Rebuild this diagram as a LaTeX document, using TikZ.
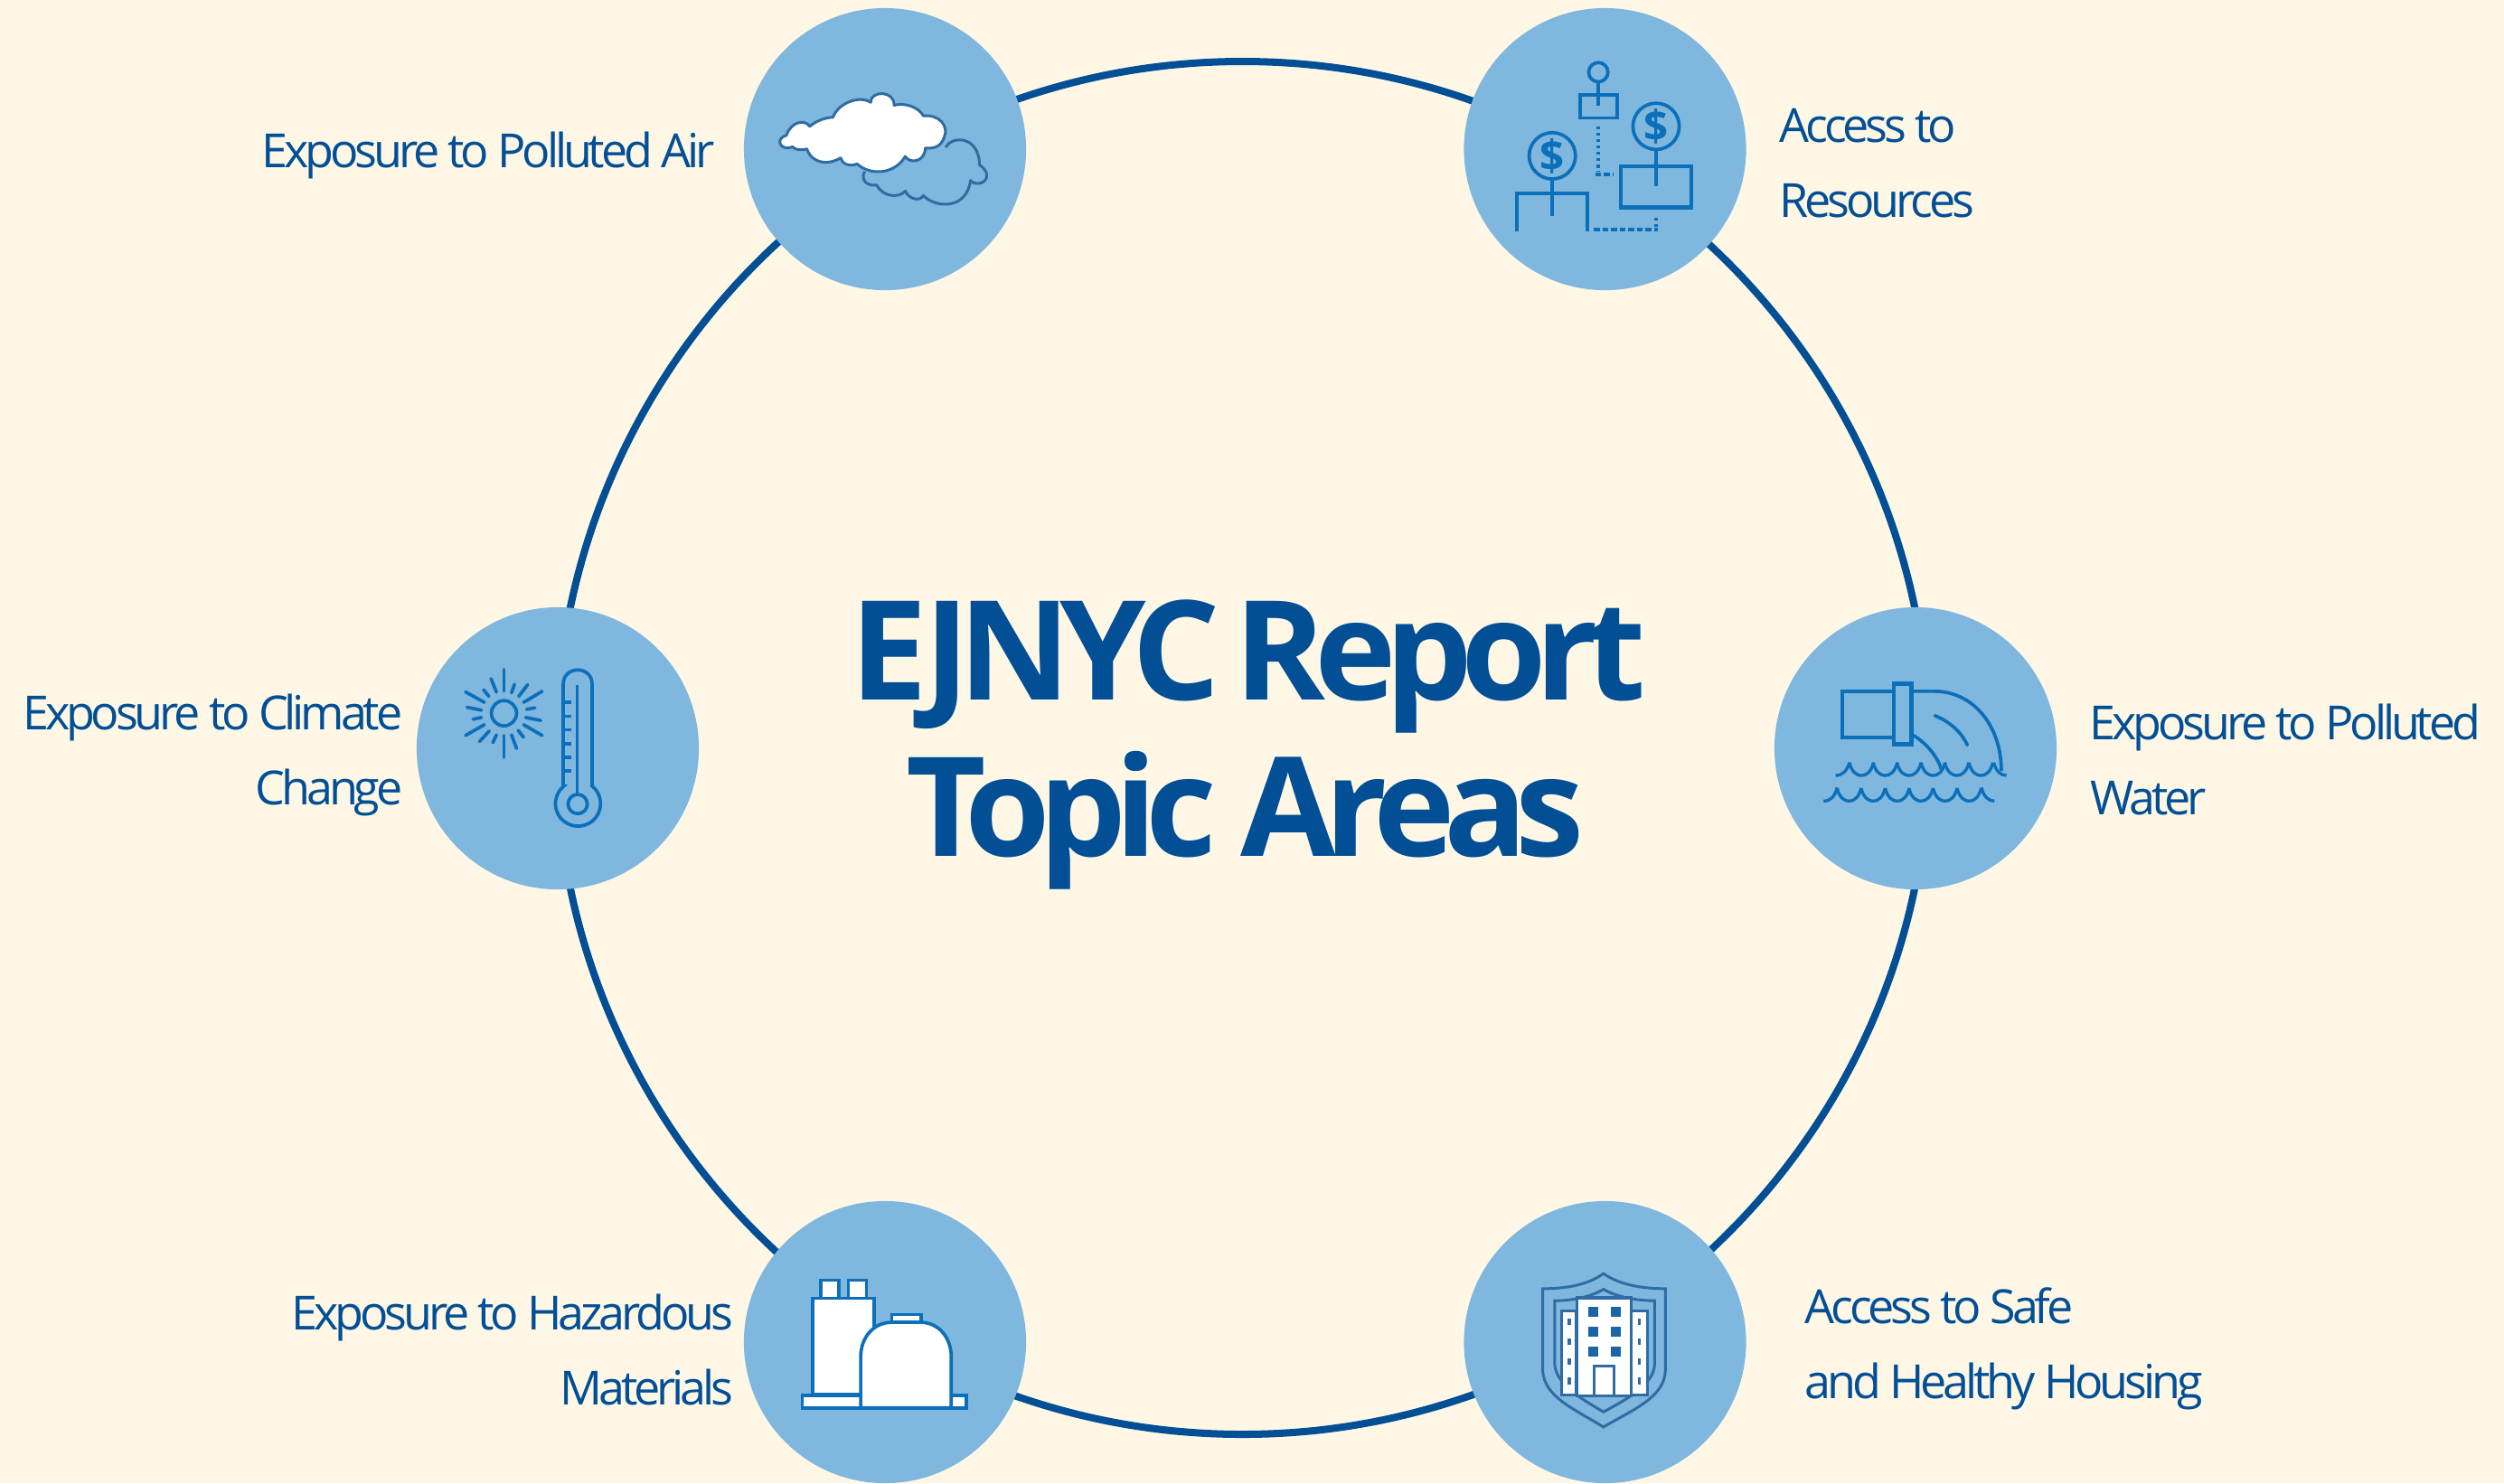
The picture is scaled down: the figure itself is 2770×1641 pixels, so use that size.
\documentclass[tikz,border=0pt]{standalone}
\usepackage{fontspec}
\setmainfont{Open Sans}
\newfontfamily\titlefont[LetterSpace=-8.3]{Open Sans}
\newfontfamily\labelfont[LetterSpace=-8]{Open Sans}
\definecolor{bgc}{HTML}{FFF7E6}
\definecolor{ringc}{HTML}{024F95}
\definecolor{topicc}{HTML}{7FB7DE}
\definecolor{iconc}{HTML}{0B6FBA}
\definecolor{soft}{HTML}{2F6CA3}
\definecolor{winc}{HTML}{1A65A6}
\tikzset{
 topic/.style={circle,fill=topicc,minimum size=3.12cm,inner sep=0pt},
 lab/.style={text=ringc,inner sep=0pt,font=\labelfont\fontsize{14.8pt}{14.8pt}\selectfont},
 ttl/.style={text=ringc,inner sep=0pt,font=\titlefont\bfseries\fontsize{43.5pt}{43.5pt}\selectfont},
 ic/.style={draw=iconc,line width=1.05pt},
 zoomed/.style={shift={#1},x=0.00333333cm,y=-0.00333333cm},
 dolar/.style={text=iconc,inner sep=0pt,font=\bfseries\fontsize{13.5pt}{13.5pt}\selectfont},
}
\newcommand{\scallop}[2]{% x of left cusp, y of cusp
  \draw[ic,line width=.95pt] (#1,#2) .. controls (#1+8,#2+33) and (#1+25,#2+43) .. (#1+40,#2+43) .. controls (#1+55,#2+43) and (#1+72,#2+33) .. (#1+80,#2);}
\begin{document}
\begin{tikzpicture}[x=0.01cm,y=-0.01cm]
\path[fill=bgc,use as bounding box] (0,0) rectangle (2770,1641);
\draw[ringc,line width=2.28pt] (1374.5,827.5) circle [radius=759.5];
\node[topic] (air) at (979,165) {};
\node[topic] (res) at (1775.5,165) {};
\node[topic] (wat) at (2119,828) {};
\node[topic] (hou) at (1775.5,1485) {};
\node[topic] (haz) at (979,1485) {};
\node[topic] (cli) at (617,828) {};

\node[ttl,anchor=base] (t1) at (1381,774) {EJNYC\hspace{-3pt} Report};
\node[ttl,anchor=base] (t2) at (1377.5,947) {Topic Areas};

\node[lab,anchor=base east] (l1) at (791,185) {Exposure to Polluted Air};
\node[lab,anchor=base west] (l2a) at (1968,157) {Access to};
\node[lab,anchor=base west] (l2b) at (1968,240) {Resources};
\node[lab,anchor=base west] (l3a) at (2311,818) {Exposure to Polluted};
\node[lab,anchor=base west] (l3b) at (2312,901) {Water};
\node[lab,anchor=base west] (l4a) at (1996,1464) {Access to Safe};
\node[lab,anchor=base west] (l4b) at (1996,1547) {and Healthy Housing};
\node[lab,anchor=base east] (l5a) at (812,1471) {Exposure to Hazardous};
\node[lab,anchor=base east] (l5b) at (812,1554) {Materials};
\node[lab,anchor=base east] (l6a) at (446,807) {Exposure to Climate};
\node[lab,anchor=base east] (l6b) at (446,890) {Change};

% cloud icon
\begin{scope}[zoomed={(820,0)}]
\draw[soft,line width=.85pt,line join=round] (410,570) .. controls (395,600) and (420,620) .. (450,615) .. controls (470,655) and (525,660) .. (545,635) .. controls (560,665) and (595,670) .. (605,650) .. controls (650,695) and (750,695) .. (762,600) .. controls (790,630) and (850,590) .. (792,548) .. controls (790,450) and (700,450) .. (680,490);
\draw[soft,fill=white,line width=.85pt,line join=round] (150,450) .. controls (165,405) and (210,395) .. (228,420) .. controls (250,400) and (285,390) .. (305,390) .. controls (320,345) and (390,315) .. (430,340) .. controls (430,300) and (510,300) .. (508,350) .. controls (540,340) and (590,355) .. (605,385) .. controls (660,380) and (690,420) .. (675,455) .. controls (665,490) and (635,495) .. (612,492) .. controls (610,540) and (560,545) .. (545,520) .. controls (510,580) and (430,585) .. (385,545) .. controls (360,555) and (335,545) .. (330,525) .. controls (290,550) and (235,545) .. (218,495) .. controls (205,500) and (180,500) .. (170,488) .. controls (130,505) and (110,460) .. cycle;
\end{scope}

% resources icon
\begin{scope}[zoomed={(1620,0)}]
\draw[ic] (445,240) circle [radius=32];
\draw[ic] (445,272) -- (445,352);
\draw[ic] (384,316) rectangle (508,392);
\draw[ic,line width=1.1pt,dash pattern=on 1pt off 1pt] (445,420) -- (445,572);
\draw[ic,line width=1.1pt,dash pattern=on 1.9pt off .8pt] (435,580) -- (495,580);
\draw[ic] (637,420) circle [radius=77];
\draw[ic] (637,497) -- (637,620);
\draw[ic,line width=1.25pt] (520,552) rectangle (755,690);
\draw[ic] (292,518) circle [radius=77];
\draw[ic] (292,595) -- (292,718);
\draw[ic,line cap=butt] (175,768) -- (175,642) -- (408,642) -- (408,768);
\draw[ic,line width=1.1pt,dash pattern=on 1.9pt off .8pt] (430,762) -- (642,762);
\draw[ic,line width=1.1pt,dash pattern=on 1pt off 1pt] (637,755) -- (637,715);
\node[dolar] (d1) at (637,420) {\$};
\node[dolar] (d2) at (292,518) {\$};
\end{scope}

% water icon
\begin{scope}[zoomed={(1960,670)}]
\draw[ic] (235,285) rectangle (405,438);
\draw[ic,line width=1.3pt] (405,260) rectangle (465,462);
\draw[ic] (465,285) -- (540,285) .. controls (670,285) and (763,400) .. (763,550);
\draw[ic] (465,428) .. controls (520,460) and (555,510) .. (565,550);
\draw[ic,line cap=round] (542,366) .. controls (590,385) and (630,420) .. (650,464);
\draw[ic,line width=.95pt] (212,565) .. controls (235,565) and (250,550) .. (258,522);
\foreach \xx in {258,337,416,496,575,655}{\scallop{\xx}{522}}
\draw[ic,line width=.95pt] (738,522) .. controls (745,550) and (760,565) .. (780,565);
\draw[ic,line width=.95pt] (172,650) .. controls (195,650) and (210,635) .. (217,605);
\foreach \xx in {217,297,377,456,536,616}{\scallop{\xx}{607}}
\draw[ic,line width=.95pt] (697,605) .. controls (704,635) and (720,650) .. (740,650);
\end{scope}

% housing icon
\begin{scope}[zoomed={(1620,1320)}]
\draw[soft,line width=.85pt,line join=miter] (462,268) .. controls (410,305) and (340,318) .. (260,318) -- (260,590) .. controls (265,680) and (370,720) .. (462,778) .. controls (560,720) and (665,680) .. (668,590) -- (668,318) .. controls (590,318) and (515,305) .. cycle;
\draw[soft,line width=.85pt] (462,320) .. controls (420,345) and (360,358) .. (300,358) -- (300,570) .. controls (305,640) and (400,690) .. (462,728) .. controls (530,690) and (630,640) .. (632,570) -- (632,358) .. controls (570,358) and (505,345) .. cycle;
\draw[soft,fill=white,line width=.85pt] (322,392) rectangle (372,672);
\draw[soft,fill=white,line width=.85pt] (555,392) rectangle (608,672);
\draw[soft,fill=white,line width=.95pt] (375,348) rectangle (555,675);
\foreach \xx in {412,486}\foreach \yy in {378,445,510}{\fill[winc] (\xx,\yy) rectangle ++(33,33);}
\draw[soft,line width=.85pt] (432,672) -- (432,575) -- (498,575) -- (498,672);
\foreach \xx in {343,577}\foreach \yy in {417,483,549,614}{\fill[soft] (\xx,\yy) rectangle ++(10,22);}
\end{scope}

% hazardous materials icon
\begin{scope}[zoomed={(820,1320)}]
\draw[ic,fill=white,line width=1.05pt] (203,672) rectangle (748,716);
\draw[ic,fill=white,line width=1.05pt] (264,290) rectangle (324,350);
\draw[ic,fill=white,line width=1.05pt] (356,290) rectangle (416,350);
\draw[ic,fill=white,line width=1.05pt] (238,350) rectangle (442,668);
\draw[ic,fill=white,line width=1.05pt] (500,404) rectangle (597,430);
\draw[ic,fill=white,line width=1.05pt] (397,714) -- (397,545) .. controls (397,480) and (440,430) .. (500,430) -- (597,430) .. controls (655,430) and (698,480) .. (698,545) -- (698,714) -- cycle;
\end{scope}

% climate icon
\begin{scope}[zoomed={(460,670)}]
\draw[ic] (293,358) circle [radius=42];
\foreach \a/\b/\c/\d in {293/212/293/285,293/432/293/505,165/287/228/322,420/285/358/322,165/432/228/396,420/432/358/396,250/243/268/288,372/263/342/302,170/338/218/348,365/372/415/382,212/452/244/417,335/475/318/430,225/280/243/302,328/262/318/290,190/378/218/372,368/345/396/340,256/456/268/430,340/415/358/438}{
 \draw[ic,line cap=round] (\a,\b) -- (\c,\d);}
\draw[ic] (490,600) -- (490,262) .. controls (490,198) and (586,198) .. (586,262) -- (586,600) arc [start angle=-51.3,end angle=231.3,radius=75] -- cycle;
\draw[ic] (538,660) circle [radius=32];
\draw[ic] (536,265) -- (536,628);
\foreach \yy in {322,368,413,459,504,549}{\draw[ic] (490,\yy) -- (518,\yy);}
\end{scope}
\end{tikzpicture}
\end{document}
